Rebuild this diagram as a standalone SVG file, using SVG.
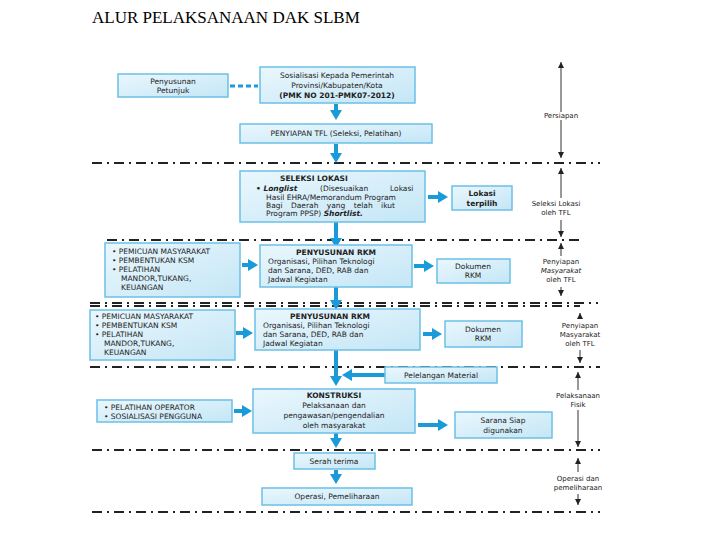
<svg xmlns="http://www.w3.org/2000/svg" width="720" height="540" viewBox="0 0 720 540">
<style>
.b{fill:url(#g);stroke:#6cc0e6;stroke-width:1.5}
.t{font-family:"DejaVu Sans",sans-serif;font-size:7.5px;fill:#222}
.tb{font-family:"DejaVu Sans",sans-serif;font-size:7.5px;fill:#222;font-weight:bold}
.r{font-family:"DejaVu Sans",sans-serif;font-size:7px;fill:#222}
.d{stroke:#222;stroke-width:1.8;stroke-dasharray:10,5,2,5;fill:none}
.a{stroke:#1a9ad8;stroke-width:4;fill:none;marker-end:url(#ma)}
.k{stroke:#333;stroke-width:1;marker-end:url(#mk);fill:none}
</style>
<defs>
<linearGradient id="g" x1="0" y1="0" x2="1" y2="1"><stop offset="0" stop-color="#eaf7fd"/><stop offset="1" stop-color="#c4e6f6"/></linearGradient>
<marker id="ma" markerWidth="10" markerHeight="12" refX="2" refY="6" orient="auto" markerUnits="userSpaceOnUse"><path d="M0,0L10,6L0,12z" fill="#1a9ad8"/></marker>
<marker id="mk" markerWidth="8" markerHeight="8" refX="6" refY="3" orient="auto" markerUnits="userSpaceOnUse"><path d="M0,0L6,3L0,6z" fill="#222"/></marker>
</defs>
<rect width="720" height="540" fill="#fff"/>
<text x="92" y="23" font-family="Liberation Serif,serif" font-size="17">ALUR PELAKSANAAN DAK SLBM</text>
<g id="connectors">
<path class="d" d="M92,163H600M107,240H580M90,303H598M90,306H580M90,367H600M92,450H600M92,512H600"/>
<path d="M230,86H258" stroke="#1a9ad8" stroke-width="3" stroke-dasharray="5,3"/>
<path class="a" d="M336,104V112"/><path class="a" d="M336,144V155"/><path class="a" d="M336,222V240"/><path class="a" d="M336,287V302"/><path class="a" d="M336,350V378"/><path class="a" d="M336,433V440"/><path class="a" d="M336,470V476"/>
<path class="a" d="M428,197H440"/><path class="a" d="M242,265H250"/><path class="a" d="M414,266H426"/><path class="a" d="M236,333H245"/><path class="a" d="M423,334H434"/><path class="a" d="M380,375H350"/><path d="M497,375H378" stroke="#1a9ad8" stroke-width="4"/><path class="a" d="M234,411H244"/><path class="a" d="M418,425H440"/>
<path class="k" d="M561,112V62"/><path class="k" d="M561,120V158"/><path class="k" d="M561,198V168"/><path class="k" d="M561,220V237"/><path class="k" d="M561,256V243"/><path class="k" d="M561,287V296"/><path class="k" d="M580,318V313"/><path class="k" d="M580,350V363"/><path class="k" d="M578,390V372"/><path class="k" d="M578,410V447"/><path class="k" d="M578,472V458"/><path class="k" d="M578,494V505"/>
</g>
<g id="petunjuk"><rect class="b" x="118" y="74" width="110" height="23"/><text class="t" text-anchor="middle" x="173" y="84">Penyusunan</text><text class="t" text-anchor="middle" x="173" y="93">Petunjuk</text></g>
<g id="sosialisasi"><rect class="b" x="260" y="67" width="155" height="36"/><text class="t" text-anchor="middle" x="337" y="78">Sosialisasi Kepada Pemerintah</text><text class="t" text-anchor="middle" x="337" y="88">Provinsi/Kabupaten/Kota</text><text class="tb" text-anchor="middle" x="337" y="98">(PMK NO 201-PMK07-2012)</text></g>
<g id="tfl"><rect class="b" x="240" y="124" width="192" height="19"/><text class="t" text-anchor="middle" x="336" y="136">PENYIAPAN TFL (Seleksi, Pelatihan)</text></g>
<g id="seleksi"><rect class="b" x="240" y="171" width="185" height="51"/><text class="tb" x="280" y="181">SELEKSI LOKASI</text>
<text class="t" x="256" y="191"><tspan font-weight="bold">• </tspan><tspan font-style="italic" font-weight="bold">Longlist</tspan><tspan x="320">(Disesuaikan</tspan><tspan x="390">Lokasi</tspan></text>
<text class="t" x="266" y="200">Hasil EHRA/Memorandum Program</text>
<text class="t" x="266" y="208" word-spacing="6">Bagi Daerah yang telah ikut</text>
<text class="t" x="266" y="216">Program PPSP) <tspan font-style="italic" font-weight="bold">Shortlist.</tspan></text></g>
<g id="lokasi"><rect class="b" x="452" y="186" width="60" height="24"/><text class="tb" text-anchor="middle" x="482" y="196">Lokasi</text><text class="tb" text-anchor="middle" x="482" y="206">terpilih</text></g>
<g id="left1"><rect class="b" x="105" y="243" width="135" height="54"/><text class="t" x="112" y="254">• PEMICUAN MASYARAKAT</text><text class="t" x="112" y="263">• PEMBENTUKAN KSM</text><text class="t" x="112" y="272">• PELATIHAN</text><text class="t" x="121" y="281">MANDOR,TUKANG,</text><text class="t" x="121" y="290">KEUANGAN</text></g>
<g id="rkm1"><rect class="b" x="260" y="245" width="152" height="42"/><text class="tb" text-anchor="middle" x="336" y="255">PENYUSUNAN RKM</text><text class="t" x="268" y="264">Organisasi, Pilihan Teknologi</text><text class="t" x="268" y="273">dan Sarana, DED, RAB dan</text><text class="t" x="268" y="282">Jadwal Kegiatan</text></g>
<g id="dok1"><rect class="b" x="437" y="259" width="73" height="24"/><text class="t" text-anchor="middle" x="473" y="269">Dokumen</text><text class="t" text-anchor="middle" x="473" y="278">RKM</text></g>
<g id="left2"><rect class="b" x="90" y="310" width="145" height="50"/><text class="t" x="95" y="319">• PEMICUAN MASYARAKAT</text><text class="t" x="95" y="328">• PEMBENTUKAN KSM</text><text class="t" x="95" y="337">• PELATIHAN</text><text class="t" x="104" y="346">MANDOR,TUKANG,</text><text class="t" x="104" y="355">KEUANGAN</text></g>
<g id="rkm2"><rect class="b" x="255" y="309" width="165" height="41"/><text class="tb" text-anchor="middle" x="330" y="319">PENYUSUNAN RKM</text><text class="t" x="263" y="328">Organisasi, Pilihan Teknologi</text><text class="t" x="263" y="337">dan Sarana, DED, RAB dan</text><text class="t" x="263" y="346">Jadwal Kegiatan</text></g>
<g id="dok2"><rect class="b" x="445" y="321" width="77" height="26"/><text class="t" text-anchor="middle" x="483" y="332">Dokumen</text><text class="t" text-anchor="middle" x="483" y="341">RKM</text></g>
<g id="lelang"><rect class="b" x="385" y="367" width="112" height="16"/><text class="t" text-anchor="middle" x="441" y="378">Pelelangan Material</text></g>
<g id="konstruksi"><rect class="b" x="253" y="389" width="162" height="44"/><text class="tb" text-anchor="middle" x="334" y="398">KONSTRUKSI</text><text class="t" text-anchor="middle" x="334" y="408">Pelaksanaan dan</text><text class="t" text-anchor="middle" x="334" y="418">pengawasan/pengendalian</text><text class="t" text-anchor="middle" x="334" y="428">oleh masyarakat</text></g>
<g id="operator"><rect class="b" x="97" y="400" width="135" height="22"/><text class="t" x="104" y="410">• PELATIHAN OPERATOR</text><text class="t" x="104" y="419">• SOSIALISASI PENGGUNA</text></g>
<g id="sarana"><rect class="b" x="455" y="412" width="97" height="26"/><text class="t" text-anchor="middle" x="503" y="423">Sarana Siap</text><text class="t" text-anchor="middle" x="503" y="433">digunakan</text></g>
<g id="serah"><rect class="b" x="294" y="453" width="81" height="16"/><text class="t" text-anchor="middle" x="334" y="464">Serah terima</text></g>
<g id="operasi"><rect class="b" x="262" y="488" width="150" height="17"/><text class="t" text-anchor="middle" x="337" y="499">Operasi, Pemeliharaan</text></g>
<g id="phases">
<text class="r" text-anchor="middle" x="561" y="118">Persiapan</text>
<text class="r" text-anchor="middle" x="556" y="206">Seleksi Lokasi</text><text class="r" text-anchor="middle" x="556" y="215">oleh TFL</text>
<text class="r" text-anchor="middle" x="561" y="264">Penyiapan</text><text class="r" text-anchor="middle" x="561" y="273"><tspan font-style="italic">Masyarakat</tspan></text><text class="r" text-anchor="middle" x="561" y="282">oleh TFL</text>
<text class="r" text-anchor="middle" x="580" y="328">Penyiapan</text><text class="r" text-anchor="middle" x="580" y="337">Masyarakat</text><text class="r" text-anchor="middle" x="580" y="346">oleh TFL</text>
<text class="r" text-anchor="middle" x="578" y="398">Pelaksanaan</text><text class="r" text-anchor="middle" x="578" y="407">Fisik</text>
<text class="r" text-anchor="middle" x="578" y="481">Operasi dan</text><text class="r" text-anchor="middle" x="578" y="490">pemeliharaan</text>
</g>
</svg>
